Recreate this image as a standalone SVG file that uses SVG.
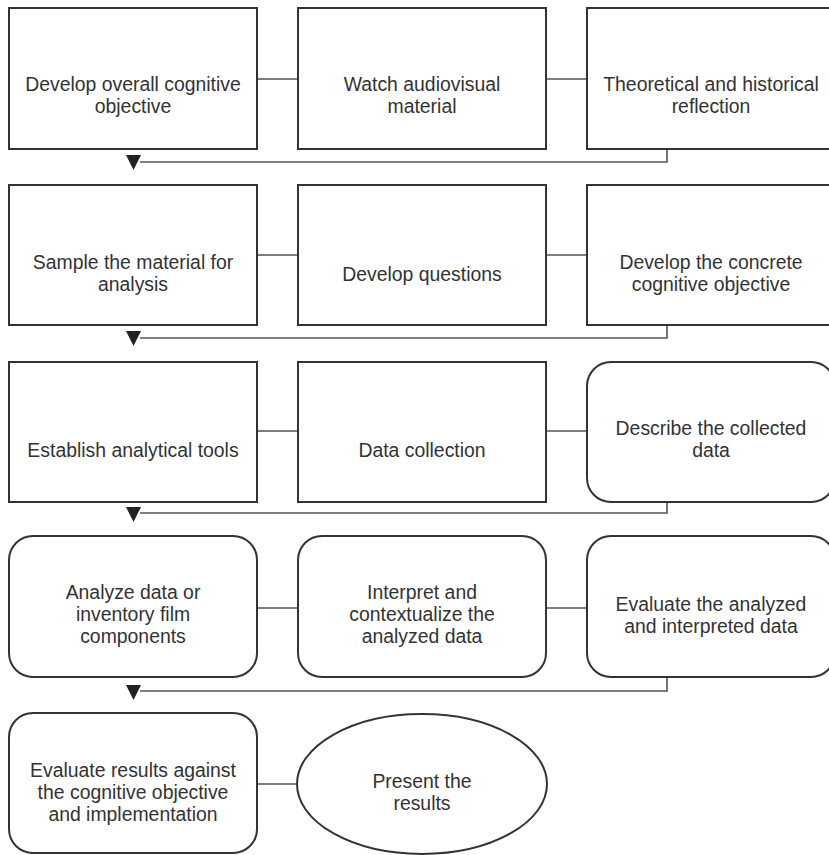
<svg xmlns="http://www.w3.org/2000/svg" width="829" height="855" viewBox="0 0 829 855">
<style>
.box{fill:#fff;stroke:#333;stroke-width:2}
.ln{fill:none;stroke:#555;stroke-width:1.6}
.t{font-family:"Liberation Sans",Arial,sans-serif;font-size:19.4px;fill:#333;text-anchor:middle}
.ah{fill:#222}
</style>
<rect width="829" height="855" fill="#fff"/>
<g id="connectors">
<line class="ln" x1="257" y1="79" x2="298" y2="79"/>
<line class="ln" x1="546" y1="79" x2="587" y2="79"/>
<polyline class="ln" points="667,149 667,162 140,162"/>
<polygon class="ah" points="126,155 141,155 133.5,170"/>
<line class="ln" x1="257" y1="255" x2="298" y2="255"/>
<line class="ln" x1="546" y1="255" x2="587" y2="255"/>
<polyline class="ln" points="667,325 667,338 140,338"/>
<polygon class="ah" points="126,331 141,331 133.5,346"/>
<line class="ln" x1="257" y1="431" x2="298" y2="431"/>
<line class="ln" x1="546" y1="431" x2="587" y2="431"/>
<polyline class="ln" points="667,502 667,513 140,513"/>
<polygon class="ah" points="126,507 141,507 133.5,522"/>
<line class="ln" x1="257" y1="608" x2="298" y2="608"/>
<line class="ln" x1="546" y1="608" x2="587" y2="608"/>
<polyline class="ln" points="667,677 667,691 140,691"/>
<polygon class="ah" points="126,685 141,685 133.5,700"/>
<line class="ln" x1="257" y1="784" x2="297" y2="784"/>
</g>
<g id="n1"><rect class="box" x="9" y="8" width="248" height="141"/>
<text class="t" x="133" y="91">Develop overall cognitive</text><text class="t" x="133" y="113">objective</text></g>
<g id="n2"><rect class="box" x="298" y="8" width="248" height="141"/>
<text class="t" x="422" y="91">Watch audiovisual</text><text class="t" x="422" y="113">material</text></g>
<g id="n3"><rect class="box" x="587" y="8" width="248" height="141"/>
<text class="t" x="711" y="91">Theoretical and historical</text><text class="t" x="711" y="113">reflection</text></g>
<g id="n4"><rect class="box" x="9" y="185" width="248" height="140"/>
<text class="t" x="133" y="269">Sample the material for</text><text class="t" x="133" y="291">analysis</text></g>
<g id="n5"><rect class="box" x="298" y="185" width="248" height="140"/>
<text class="t" x="422" y="281">Develop questions</text></g>
<g id="n6"><rect class="box" x="587" y="185" width="248" height="140"/>
<text class="t" x="711" y="269">Develop the concrete</text><text class="t" x="711" y="291">cognitive objective</text></g>
<g id="n7"><rect class="box" x="9" y="362" width="248" height="140"/>
<text class="t" x="133" y="457">Establish analytical tools</text></g>
<g id="n8"><rect class="box" x="298" y="362" width="248" height="140"/>
<text class="t" x="422" y="457">Data collection</text></g>
<g id="n9"><rect class="box" x="587" y="362" width="248" height="140" rx="24"/>
<text class="t" x="711" y="435">Describe the collected</text><text class="t" x="711" y="457">data</text></g>
<g id="n10"><rect class="box" x="9" y="536" width="248" height="141" rx="24"/>
<text class="t" x="133" y="599">Analyze data or</text><text class="t" x="133" y="621">inventory film</text><text class="t" x="133" y="643">components</text></g>
<g id="n11"><rect class="box" x="298" y="536" width="248" height="141" rx="24"/>
<text class="t" x="422" y="599">Interpret and</text><text class="t" x="422" y="621">contextualize the</text><text class="t" x="422" y="643">analyzed data</text></g>
<g id="n12"><rect class="box" x="587" y="536" width="248" height="141" rx="24"/>
<text class="t" x="711" y="611">Evaluate the analyzed</text><text class="t" x="711" y="633">and interpreted data</text></g>
<g id="n13"><rect class="box" x="9" y="713" width="248" height="140" rx="24"/>
<text class="t" x="133" y="777">Evaluate results against</text><text class="t" x="133" y="799">the cognitive objective</text><text class="t" x="133" y="821">and implementation</text></g>
<g id="n14"><ellipse class="box" cx="422" cy="784" rx="125" ry="70"/>
<text class="t" x="422" y="788">Present the</text><text class="t" x="422" y="810">results</text></g>
</svg>
